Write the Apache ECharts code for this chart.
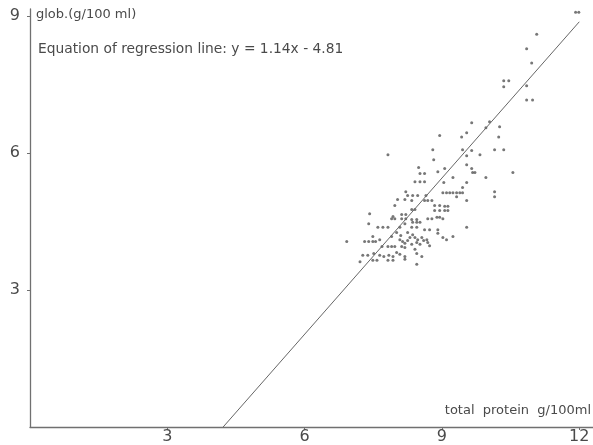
<!DOCTYPE html>
<html>
<head>
<meta charset="utf-8">
<script src="https://cdn.jsdelivr.net/npm/echarts@6/dist/echarts.min.js"></script>
<style>
  html, body { margin: 0; padding: 0; background: #fff; }
  #chart { width: 593px; height: 445px; }
</style>
</head>
<body>
<div id="chart"></div>
<script>
// total protein (g/100 ml) and globulin (g/100 ml)
const totalProtein = [
  11.92, 11.99, 11.07, 10.85, 10.96, 10.35, 10.46, 10.35, 10.85, 10.85, 10.98,
  9.65, 10.04, 9.96, 10.26, 9.54, 9.43, 8.95, 10.24, 9.45, 9.65, 10.15, 10.35,
  9.83, 9.54, 8.80, 8.82, 7.82, 9.54, 9.65, 9.67, 9.72, 10.55, 9.06, 8.91,
  8.49, 8.52, 8.62, 9.24, 9.96, 9.54, 9.04, 8.41, 8.52, 8.62, 9.45,
  9.02, 9.10, 9.17, 9.24, 9.32, 9.39, 9.45, 10.15, 10.15, 9.32, 9.54,
  8.21, 8.25, 8.36, 8.47, 8.65, 8.03, 8.19, 8.34, 8.62, 8.69, 8.78,
  7.97, 8.34, 8.41, 8.84, 8.95, 9.06, 9.13, 8.84, 8.95, 9.06, 9.13,
  8.12, 8.21, 7.93, 7.42, 7.90, 7.97, 8.12, 8.21, 8.34, 8.45,
  8.69, 8.78, 8.89, 8.95, 9.02, 7.40, 8.19, 8.36, 8.45, 8.52,
  7.60, 7.71, 7.82, 8.08, 8.34, 8.45, 8.62, 8.73, 8.91, 8.91, 9.54,
  8.01, 8.25, 8.36, 7.49, 7.90, 6.92, 7.31, 7.40, 7.49, 7.55, 7.64,
  8.08, 8.14, 8.19, 8.25, 8.30, 8.10, 8.41, 8.47, 8.56, 8.60,
  8.67, 8.69, 8.73, 9.02, 9.10, 9.24, 7.69, 7.82, 7.90, 7.97, 8.12, 8.19,
  8.34, 8.45, 8.52, 7.27, 7.38, 7.51, 7.64, 7.73, 7.84, 7.93, 8.01, 8.08,
  8.19, 8.41, 8.45, 8.56, 7.21, 7.49, 7.58, 7.82, 7.93, 8.19, 8.45
];
const globulin = [
  9.08, 9.08, 8.60, 8.28, 7.97, 7.58, 7.58, 7.45, 7.47, 7.16, 7.16,
  6.66, 6.68, 6.55, 6.57, 6.44, 6.35, 6.38, 6.35, 6.07, 6.05, 6.07, 6.07,
  5.96, 5.94, 6.07, 5.85, 5.96, 5.74, 5.66, 5.57, 5.57, 5.57, 5.66, 5.59,
  5.68, 5.55, 5.55, 5.46, 5.46, 5.35, 5.35, 5.37, 5.37, 5.37, 5.24,
  5.13, 5.13, 5.13, 5.13, 5.13, 5.13, 5.13, 5.15, 5.04, 5.04, 4.96,
  5.15, 5.07, 5.07, 5.07, 5.07, 4.98, 4.98, 4.96, 4.96, 4.96, 4.96,
  4.85, 4.76, 4.76, 4.85, 4.85, 4.83, 4.83, 4.74, 4.74, 4.74, 4.74,
  4.65, 4.65, 4.61, 4.67, 4.56, 4.56, 4.56, 4.56, 4.54, 4.54,
  4.56, 4.56, 4.59, 4.59, 4.56, 4.45, 4.45, 4.48, 4.48, 4.48,
  4.37, 4.37, 4.37, 4.37, 4.37, 4.37, 4.32, 4.32, 4.32, 4.24, 4.37,
  4.26, 4.26, 4.21, 4.17, 4.17, 4.06, 4.06, 4.06, 4.06, 4.06, 4.10,
  4.10, 4.06, 4.02, 4.08, 4.15, 4.19, 4.15, 4.10, 4.15, 4.08,
  4.10, 4.04, 3.97, 4.15, 4.10, 4.17, 3.95, 3.95, 3.95, 3.95, 3.95, 3.93,
  4.00, 4.04, 4.00, 3.76, 3.76, 3.80, 3.76, 3.73, 3.76, 3.73, 3.82, 3.78,
  3.73, 3.89, 3.80, 3.73, 3.62, 3.65, 3.65, 3.65, 3.65, 3.67, 3.56
];
const xTicks = [3, 6, 9, 12];
const yTicks = [3, 6, 9];
// y = 1.14x - 4.81
const slope = 1.14;
const intercept = -4.81;

let points = totalProtein.map((x, i) => [x, globulin[i]]);
let xStart = -intercept / slope;
let regLine = [[xStart, 0], [12, slope * 12 + intercept]];

let fontFam = '"DejaVu Sans", "Liberation Sans", sans-serif';
let axisCol = '#707070';
let textCol = '#4a4a4a';

let option = {
  backgroundColor: '#fff',
  animation: false,
  grid: { left: 30, right: 0, top: 9, bottom: 17 },
  xAxis: {
    type: 'value',
    min: 0,
    max: 12.3,
    interval: 3,
    splitLine: { show: false },
    axisLine: { lineStyle: { color: axisCol, width: 1.3 } },
    axisTick: { show: true, length: 3, customValues: xTicks, lineStyle: { color: axisCol } },
    axisLabel: {
      customValues: xTicks, margin: 2, color: textCol,
      fontFamily: fontFam, fontSize: 16
    }
  },
  yAxis: {
    type: 'value',
    min: 0,
    max: 9.15,
    interval: 3,
    splitLine: { show: false },
    axisLine: { lineStyle: { color: axisCol, width: 1.3 } },
    axisTick: { show: true, length: 3, customValues: yTicks, lineStyle: { color: axisCol } },
    axisLabel: {
      customValues: yTicks, margin: 10, color: textCol,
      fontFamily: fontFam, fontSize: 16
    }
  },
  graphic: [
    {
      type: 'text', left: 36, top: 8,
      style: { text: 'glob.(g/100 ml)', fill: textCol, font: '13px ' + fontFam }
    },
    {
      type: 'text', left: 38, top: 42,
      style: { text: 'Equation of regression line: y = 1.14x - 4.81', fill: textCol, font: '13.8px ' + fontFam }
    },
    {
      type: 'text', right: 2, top: 404,
      style: { text: 'total  protein  g/100ml', fill: textCol, font: '13px ' + fontFam }
    }
  ],
  series: [
    {
      type: 'line',
      data: regLine,
      symbol: 'none',
      lineStyle: { color: '#666', width: 1 },
      silent: true
    },
    {
      type: 'scatter',
      data: points,
      symbol: 'circle',
      symbolSize: 3,
      clip: false,
      itemStyle: { color: '#555' }
    }
  ]
};

let myChart = echarts.init(document.getElementById('chart'));
myChart.setOption(option);
</script>
</body>
</html>
